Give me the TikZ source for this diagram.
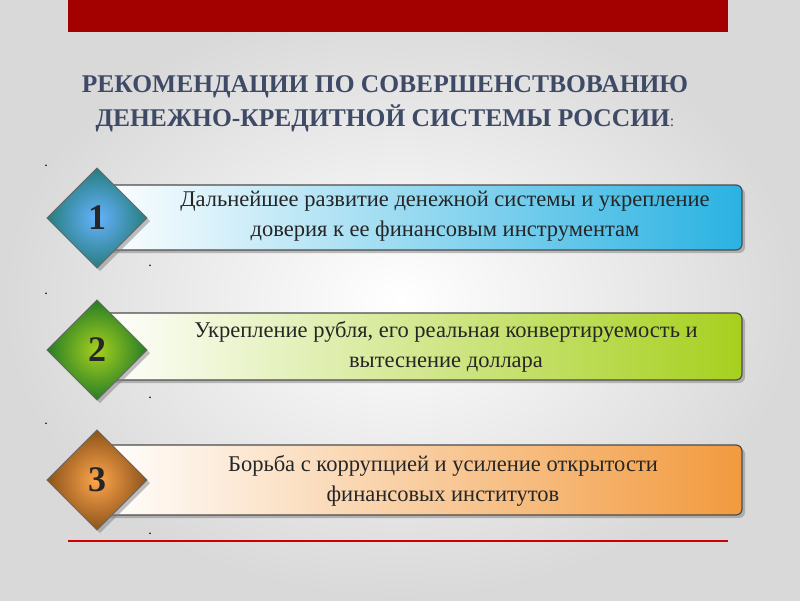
\documentclass[tikz,border=0pt]{standalone}
\usepackage{fontspec}
\setmainfont{Liberation Serif}
\usetikzlibrary{shadows}
\definecolor{ttl}{HTML}{3E4A66}
\definecolor{redb}{HTML}{A30000}
\definecolor{cy}{HTML}{2AB2E2}
\definecolor{gr}{HTML}{A6D01E}
\definecolor{orr}{HTML}{F29A3E}
\begin{document}
\begin{tikzpicture}[x=1pt,y=-1pt,
 bar/.style={draw=black!70,line width=1.2pt,rounded corners=6pt,drop shadow={shadow xshift=3pt,shadow yshift=-3pt,opacity=0.5}},
 dia/.style={draw=black!60,line width=1pt,drop shadow={shadow xshift=3pt,shadow yshift=-3pt,opacity=0.5}},
 btxt/.style={font=\fontsize{22.5}{30}\selectfont,align=center,text=black!85},
 num/.style={font=\fontsize{36}{36}\selectfont\bfseries,text=black!85},
 dot/.style={font=\fontsize{14}{14}\selectfont}]
\useasboundingbox (0,0) rectangle (800,600);
\shade[inner color=white,outer color=black!15] (0,0) rectangle (800,600);
\fill[redb] (68,0) rectangle (728,32);
\node[font=\fontsize{25.5}{34}\selectfont\bfseries,text=ttl,align=center] (t) at (385,104)
 {РЕКОМЕНДАЦИИ ПО СОВЕРШЕНСТВОВАНИЮ\\ДЕНЕЖНО-КРЕДИТНОЙ СИСТЕМЫ РОССИИ{\fontsize{16}{16}\selectfont\mdseries:}};
% bars
\shade[bar,left color=white,right color=cy] (100,185) rectangle (742,250);
\shade[bar,left color=white,right color=gr] (100,313) rectangle (742,380);
\shade[bar,left color=white,right color=orr] (100,445) rectangle (742,515);
\node[btxt] (b1) at (445,216) {Дальнейшее развитие денежной системы и укрепление\\доверия к ее финансовым инструментам};
\node[btxt] (b2) at (446,347) {Укрепление рубля, его реальная конвертируемость и\\вытеснение доллара};
\node[btxt] (b3) at (443,481) {Борьба с коррупцией и усиление открытости\\финансовых институтов};
% diamonds
\shade[dia,inner color=cyan!50!blue!60,outer color=cyan!40!black!85] (97,168)--(147,218)--(97,268)--(47,218)--cycle;
\shade[dia,inner color=gr,outer color=green!40!black!85] (97,300)--(147,350)--(97,400)--(47,350)--cycle;
\shade[dia,inner color=orange!70,outer color=orange!50!black!90] (97,430)--(147,480)--(97,530)--(47,480)--cycle;
\node[num] (n1) at (97,218) {1};
\node[num] (n2) at (97,350) {2};
\node[num] (n3) at (97,480) {3};
\foreach \x/\y/\n in {46/166/d1,150/266/d2,46/294/d3,150/398/d4,46/424/d5,150/534/d6}
 \node[dot] (\n) at (\x,\y) {.};
\draw[red!80!black,line width=1.2pt] (68,541) -- (728,541);
\end{tikzpicture}
\end{document}
